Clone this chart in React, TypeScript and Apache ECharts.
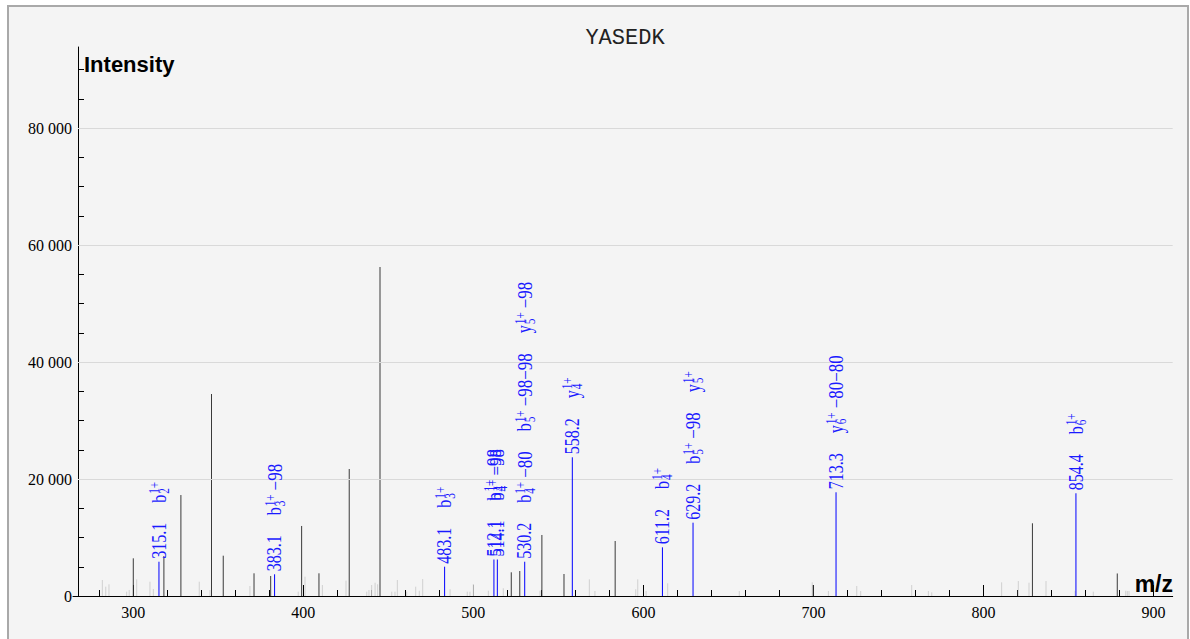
import React, { useEffect, useRef } from 'react';
import * as echarts from 'echarts';

// ---- axis extents (m/z and intensity) ----
const X_MIN = 264.54;
const X_AXIS_START = 267.48;
const X_MAX = 911.3;
const Y_MAX = 93850;

// ---- ticks ----
const xTickLabels = [300, 400, 500, 600, 700, 800, 900];
const xMinorTicks = [280, 320, 340, 360, 380, 420, 440, 460, 480, 520, 540, 560, 580, 620, 640, 660, 680, 720, 740, 760, 780, 820, 840, 860, 880];
const yTickLabels = [0, 20000, 40000, 60000, 80000];
const yMinorTicks = [5000, 10000, 15000, 25000, 30000, 35000, 45000, 50000, 55000, 65000, 70000, 75000, 85000, 90000];
const gridValues = [20000, 40000, 60000, 80000];

// ---- unannotated peaks ----
const peakMz = [300.0, 318.0, 328.0, 346.0, 352.9, 371.0, 380.8, 399.0, 409.2, 427.0, 445.1, 522.3, 527.3, 540.3, 553.3, 583.4, 699.9, 828.8, 878.7];
const peakIntensity = [6440, 6840, 17260, 34530, 6890, 3880, 3420, 11970, 3880, 21710, 56240, 4050, 4270, 10430, 3760, 9400, 1880, 12430, 3850];

// ---- low-level (noise) peaks ----
const noiseMz = [281.8, 283.8, 285.7, 296.1, 297.6, 302.0, 309.8, 311.8, 338.8, 345.1, 368.6, 397.0, 401.0, 411.2, 425.1, 437.3, 438.6, 440.2, 442.2, 443.7, 452.0, 453.9, 455.3, 460.8, 466.1, 468.2, 470.2, 486.3, 496.4, 498.0, 500.0, 508.8, 517.6, 539.2, 568.2, 571.5, 595.5, 596.7, 601.6, 614.3, 656.4, 699.3, 708.8, 725.5, 727.8, 757.8, 767.6, 769.6, 810.7, 820.5, 826.8, 836.8, 853.9, 864.6, 883.7, 884.6, 885.6];
const noiseIntensity = [2730, 1590, 2000, 740, 1030, 2850, 2440, 1200, 2440, 1030, 1710, 740, 3300, 1880, 2620, 740, 1030, 1880, 2270, 2000, 740, 740, 2730, 740, 1590, 900, 2900, 1150, 740, 740, 2050, 900, 1320, 900, 2850, 850, 1150, 2850, 850, 2170, 850, 2340, 850, 1710, 850, 1880, 850, 630, 2340, 2560, 2270, 2560, 900, 740, 900, 850, 850];

// ---- annotated (matched) peaks ----
const annotatedMz = [315.1, 383.1, 483.1, 512.1, 514.1, 530.2, 558.2, 611.2, 629.2, 713.3, 854.4];
const annotatedIntensity = [5860, 3710, 5010, 6240, 6240, 5860, 23710, 8320, 12530, 17730, 17560];
// ion | subscript | superscript | suffix
const annotatedIons: string[][] = [
  ['b|2|1+'],
  ['b|3|1+|−98'],
  ['b|3|1+'],
  ['b|4|1+|−98'],
  ['b|4|1+|−98'],
  ['b|4|1+|−80', 'b|5|1+|−98−98', 'y|5|1+|−98'],
  ['y|4|1+'],
  ['b|4|1+'],
  ['b|5|1+|−98', 'y|5|1+'],
  ['y|6|1+|−80−80'],
  ['b|6|1+'],
];

const SERIF = 'Liberation Serif';
const MONO = 'Liberation Mono';
const SANS = 'Liberation Sans';
const BIG = 20;
const SMALL = 14;
const SX = 0.8;
const SX_SUFFIX = 0.85;
const GAP = 20;
const LABEL_COLOR = '#1a1aff';

let measureCtx: CanvasRenderingContext2D | null = null;
function textWidth(t: string, size: number): number {
  if (!measureCtx) measureCtx = document.createElement('canvas').getContext('2d');
  if (!measureCtx) return t.length * size * 0.5;
  measureCtx.font = `${size}px ${SERIF}`;
  return measureCtx.measureText(t).width;
}

function txt(text: string, x: number, y: number, size: number, sx: number = SX) {
  return {
    type: 'text',
    x,
    y,
    scaleX: sx,
    silent: true,
    style: {
      text,
      fontSize: size,
      fontFamily: SERIF,
      fill: LABEL_COLOR,
      align: 'left',
      verticalAlign: 'middle',
    },
  };
}

function buildLabel(mz: number, ions: string[]) {
  const children: any[] = [];
  let cur = 0;
  const num = mz.toFixed(1);
  children.push(txt(num, cur, 0, BIG));
  cur += textWidth(num, BIG) * SX + GAP;
  for (const ion of ions) {
    const [letter, sub, sup, suffix] = ion.split('|');
    children.push(txt(letter, cur, 0, BIG));
    cur += textWidth(letter, BIG) * SX + 1;
    children.push(txt(sup, cur, -4.5, SMALL));
    children.push(txt(sub, cur, 5.5, SMALL));
    cur += Math.max(textWidth(sup, SMALL), textWidth(sub, SMALL)) * SX;
    if (suffix) {
      cur += 4;
      children.push(txt(suffix, cur, 0, BIG, SX_SUFFIX));
      cur += textWidth(suffix, BIG) * SX_SUFFIX;
    }
    cur += GAP;
  }
  return children;
}

function stickRender(color: string) {
  return (params: any, api: any) => {
    const x = api.value(0);
    const y = api.value(1);
    const p0 = api.coord([x, 0]);
    const p1 = api.coord([x, y]);
    return {
      type: 'line',
      silent: true,
      shape: { x1: p0[0], y1: p0[1], x2: p1[0], y2: p1[1] },
      style: { stroke: color, lineWidth: 1 },
    };
  };
}

function annotatedRender(params: any, api: any) {
  const x = api.value(0);
  const y = api.value(1);
  const idx = api.value(2);
  const p0 = api.coord([x, 0]);
  const p1 = api.coord([x, y]);
  return {
    type: 'group',
    children: [
      {
        type: 'line',
        silent: true,
        shape: { x1: p0[0], y1: p0[1], x2: p1[0], y2: p1[1] },
        style: { stroke: '#0000ff', lineWidth: 1 },
      },
      {
        type: 'group',
        x: p1[0],
        y: p1[1] - 3,
        rotation: Math.PI / 2,
        children: buildLabel(annotatedMz[idx], annotatedIons[idx]),
      },
    ],
  };
}

function fmtY(v: number): string {
  if (v === 0) return '0';
  return `${Math.round(v / 1000)} 000`;
}

export default function App() {
  const ref = useRef<HTMLDivElement>(null);
  useEffect(() => {
    const chart = echarts.init(ref.current!, null, { renderer: 'svg' });
    const axisFont = { color: '#000', fontSize: 16, fontFamily: SERIF };
    const option: any = {
      animation: false,
      backgroundColor: '#ffffff',
      graphic: [
        {
          type: 'rect',
          z: -100,
          silent: true,
          shape: { x: 8, y: 6, width: 1180, height: 700 },
          style: { fill: '#f4f4f4', stroke: '#a9a9a9', lineWidth: 2 },
        },
        {
          type: 'text',
          x: 625,
          y: 38,
          silent: true,
          style: {
            text: 'YASEDK',
            fontSize: 22,
            fontFamily: MONO,
            fill: '#222',
            align: 'center',
            verticalAlign: 'middle',
          },
        },
        {
          type: 'text',
          x: 84,
          y: 64,
          silent: true,
          style: {
            text: 'Intensity',
            fontSize: 22,
            fontWeight: 'bold',
            fontFamily: SANS,
            fill: '#000',
            align: 'left',
            verticalAlign: 'middle',
          },
        },
        {
          type: 'text',
          x: 1173,
          y: 584,
          silent: true,
          style: {
            text: 'm/z',
            fontSize: 23,
            fontWeight: 'bold',
            fontFamily: SANS,
            fill: '#000',
            align: 'right',
            verticalAlign: 'middle',
          },
        },
      ],
      grid: { left: 73, top: 47, width: 1099.7, height: 549, containLabel: false },
      xAxis: [
        {
          type: 'value',
          position: 'bottom',
          min: X_MIN,
          max: X_MAX,
          axisLine: { show: true, onZero: false, lineStyle: { color: '#000', width: 1 } },
          axisTick: { show: true, inside: true, length: 11, customValues: xTickLabels, lineStyle: { color: '#000' } },
          axisLabel: { show: true, customValues: xTickLabels, margin: 8, ...axisFont },
          splitLine: { show: false },
        },
        {
          type: 'value',
          position: 'bottom',
          min: X_MIN,
          max: X_MAX,
          axisLine: { show: false, onZero: false },
          axisTick: { show: true, inside: true, length: 6, customValues: xMinorTicks, lineStyle: { color: '#000' } },
          axisLabel: { show: false, customValues: xMinorTicks },
          splitLine: { show: false },
        },
      ],
      yAxis: [
        {
          type: 'value',
          position: 'left',
          offset: -5,
          min: 0,
          max: Y_MAX,
          axisLine: { show: true, onZero: false, lineStyle: { color: '#000', width: 1 } },
          axisTick: { show: true, inside: true, length: 10, customValues: yTickLabels, lineStyle: { color: '#000' } },
          axisLabel: { show: true, customValues: yTickLabels, margin: 6, formatter: fmtY, ...axisFont },
          splitLine: { show: false },
        },
        {
          type: 'value',
          position: 'left',
          offset: -5,
          min: 0,
          max: Y_MAX,
          axisLine: { show: false, onZero: false },
          axisTick: { show: true, inside: true, length: 6, customValues: yMinorTicks, lineStyle: { color: '#000' } },
          axisLabel: { show: false, customValues: yMinorTicks },
          splitLine: { show: false },
        },
      ],
      series: [
        {
          type: 'line',
          xAxisIndex: 0,
          yAxisIndex: 0,
          data: [],
          silent: true,
          z: 1,
          markLine: {
            silent: true,
            symbol: ['none', 'none'],
            label: { show: false },
            lineStyle: { color: '#d9d9d9', width: 1, type: 'solid' },
            data: gridValues.map((v) => [{ coord: [X_AXIS_START, v] }, { coord: [X_MAX, v] }]),
          },
        },
        {
          type: 'custom',
          xAxisIndex: 0,
          yAxisIndex: 0,
          z: 3,
          silent: true,
          data: noiseMz.map((m, i) => [m, noiseIntensity[i]]),
          encode: { x: 0, y: 1 },
          renderItem: stickRender('#d0d0d0'),
        },
        {
          type: 'custom',
          xAxisIndex: 0,
          yAxisIndex: 0,
          z: 4,
          silent: true,
          data: peakMz.map((m, i) => [m, peakIntensity[i]]),
          encode: { x: 0, y: 1 },
          renderItem: stickRender('#3a3a3a'),
        },
        {
          type: 'custom',
          xAxisIndex: 0,
          yAxisIndex: 0,
          z: 5,
          silent: true,
          data: annotatedMz.map((m, i) => [m, annotatedIntensity[i], i]),
          encode: { x: 0, y: 1 },
          renderItem: annotatedRender,
        },
      ],
    };
    chart.setOption(option);
    return () => chart.dispose();
  }, []);
  return <div ref={ref} style={{ position: 'absolute', left: 0, top: 0, width: 1190, height: 639 }} />;
}
